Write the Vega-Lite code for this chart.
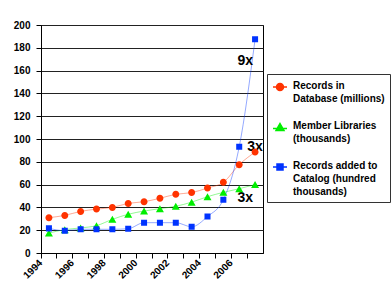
{
  "$schema": "https://vega.github.io/schema/vega-lite/v6.json",
  "width": 222,
  "height": 228,
  "autosize": "none",
  "padding": {"left": 41, "top": 25, "right": 128, "bottom": 42},
  "background": "white",
  "view": {"stroke": "#000", "strokeWidth": 1},
  "config": {
    "font": "Liberation Sans",
    "axis": {"labelFont": "Liberation Sans", "labelFontWeight": "bold", "labelFontSize": 10, "labelColor": "#000", "tickColor": "#000", "domainColor": "#000", "tickSize": 5}
  },
  "datasets": {
    "series": [
      {"year": "1994", "series": "Records in Database (millions)", "value": 31},
      {"year": "1995", "series": "Records in Database (millions)", "value": 33},
      {"year": "1996", "series": "Records in Database (millions)", "value": 36.5},
      {"year": "1997", "series": "Records in Database (millions)", "value": 38.5},
      {"year": "1998", "series": "Records in Database (millions)", "value": 40},
      {"year": "1999", "series": "Records in Database (millions)", "value": 43.5},
      {"year": "2000", "series": "Records in Database (millions)", "value": 45},
      {"year": "2001", "series": "Records in Database (millions)", "value": 48},
      {"year": "2002", "series": "Records in Database (millions)", "value": 51.5},
      {"year": "2003", "series": "Records in Database (millions)", "value": 53},
      {"year": "2004", "series": "Records in Database (millions)", "value": 57},
      {"year": "2005", "series": "Records in Database (millions)", "value": 62},
      {"year": "2006", "series": "Records in Database (millions)", "value": 77.5},
      {"year": "2007", "series": "Records in Database (millions)", "value": 88.5},
      {"year": "1994", "series": "Member Libraries (thousands)", "value": 17.5},
      {"year": "1995", "series": "Member Libraries (thousands)", "value": 20.5},
      {"year": "1996", "series": "Member Libraries (thousands)", "value": 22},
      {"year": "1997", "series": "Member Libraries (thousands)", "value": 24},
      {"year": "1998", "series": "Member Libraries (thousands)", "value": 29.5},
      {"year": "1999", "series": "Member Libraries (thousands)", "value": 34},
      {"year": "2000", "series": "Member Libraries (thousands)", "value": 36.8},
      {"year": "2001", "series": "Member Libraries (thousands)", "value": 38.9},
      {"year": "2002", "series": "Member Libraries (thousands)", "value": 41},
      {"year": "2003", "series": "Member Libraries (thousands)", "value": 44.6},
      {"year": "2004", "series": "Member Libraries (thousands)", "value": 49.4},
      {"year": "2005", "series": "Member Libraries (thousands)", "value": 53.2},
      {"year": "2006", "series": "Member Libraries (thousands)", "value": 56.4},
      {"year": "2007", "series": "Member Libraries (thousands)", "value": 60},
      {"year": "1994", "series": "Records added to Catalog (hundred thousands)", "value": 21.6},
      {"year": "1995", "series": "Records added to Catalog (hundred thousands)", "value": 19.6},
      {"year": "1996", "series": "Records added to Catalog (hundred thousands)", "value": 20.8},
      {"year": "1997", "series": "Records added to Catalog (hundred thousands)", "value": 20.8},
      {"year": "1998", "series": "Records added to Catalog (hundred thousands)", "value": 20.8},
      {"year": "1999", "series": "Records added to Catalog (hundred thousands)", "value": 21.3},
      {"year": "2000", "series": "Records added to Catalog (hundred thousands)", "value": 26.6},
      {"year": "2001", "series": "Records added to Catalog (hundred thousands)", "value": 26.6},
      {"year": "2002", "series": "Records added to Catalog (hundred thousands)", "value": 26.6},
      {"year": "2003", "series": "Records added to Catalog (hundred thousands)", "value": 23},
      {"year": "2004", "series": "Records added to Catalog (hundred thousands)", "value": 32},
      {"year": "2005", "series": "Records added to Catalog (hundred thousands)", "value": 46.8},
      {"year": "2006", "series": "Records added to Catalog (hundred thousands)", "value": 93.2},
      {"year": "2007", "series": "Records added to Catalog (hundred thousands)", "value": 187.5}
    ],
    "notesA": [
      {"year": "2006", "label": "9x", "value": 168.4},
      {"year": "2006", "label": "3x", "value": 47.9}
    ],
    "notesB": [
      {"year": "2007", "label": "3x", "value": 92.7}
    ]
  },
  "encoding": {
    "x": {
      "field": "year", "type": "ordinal", "title": null,
      "scale": {"type": "band", "paddingInner": 0, "paddingOuter": 0},
      "axis": {"bandPosition": 0, "labelAngle": -45, "labelAlign": "right", "labelBaseline": "middle", "labelOffset": -8, "labelExpr": "toNumber(datum.value) % 2 == 0 ? datum.value : ''", "labelPadding": 3, "grid": false}
    },
    "y": {
      "field": "value", "type": "quantitative", "title": null,
      "scale": {"domain": [0, 200], "nice": false, "zero": true},
      "axis": {"values": [0, 20, 40, 60, 80, 100, 120, 140, 160, 180, 200], "grid": true, "gridColor": "#222", "gridWidth": 1, "gridOpacity": 1, "labelPadding": 6}
    }
  },
  "layer": [
    {
      "data": {"name": "series"},
      "mark": {"type": "line", "interpolate": "monotone", "strokeWidth": 1, "strokeOpacity": 0.42},
      "encoding": {
        "color": {
          "field": "series", "type": "nominal", "title": null,
          "scale": {"domain": ["Records in Database (millions)", "Member Libraries (thousands)", "Records added to Catalog (hundred thousands)"], "range": ["#ff3300", "#00ee00", "#0033ff"]}
        }
      }
    },
    {
      "data": {"name": "notesA"},
      "mark": {"type": "text", "font": "Liberation Sans", "fontWeight": "bold", "fontSize": 14, "align": "center", "baseline": "middle", "dx": 6, "color": "#000"},
      "encoding": {"text": {"field": "label"}}
    },
    {
      "data": {"name": "notesB"},
      "mark": {"type": "text", "font": "Liberation Sans", "fontWeight": "bold", "fontSize": 14, "align": "center", "baseline": "middle", "dx": 0, "color": "#000"},
      "encoding": {"text": {"field": "label"}}
    },
    {
      "data": {"name": "series"},
      "mark": {"type": "point", "filled": true, "opacity": 1, "size": 196, "strokeOpacity": 0},
      "encoding": {
        "color": {
          "field": "series", "type": "nominal", "title": null,
          "legend": {
            "orient": "none", "legendX": 226, "legendY": 49, "padding": 5,
            "strokeColor": "#333", "fillColor": "#fff",
            "symbolSize": 196, "symbolStrokeWidth": 1.5, "symbolOpacity": 1,
            "labelFont": "Liberation Sans", "labelFontWeight": "bold", "labelFontSize": 10, "labelColor": "#000",
            "labelOffset": 5, "labelLimit": 200, "labelBaseline": "top", "rowPadding": 15,
            "labelExpr": "datum.value == 'Records in Database (millions)' ? ['Records in', 'Database (millions)'] : datum.value == 'Member Libraries (thousands)' ? ['Member Libraries', '(thousands)'] : ['Records added to', 'Catalog (hundred', 'thousands)']",
            "encode": {
              "symbols": {"update": {"stroke": {"scale": "color", "field": "value"}, "strokeWidth": {"value": 1.5}, "strokeOpacity": {"value": 1}}},
              "labels": {"update": {"dy": {"value": -6}, "lineHeight": {"value": 13}}}
            }
          }
        },
        "shape": {
          "field": "series", "type": "nominal", "title": null,
          "scale": {"domain": ["Records in Database (millions)", "Member Libraries (thousands)", "Records added to Catalog (hundred thousands)"], "range": ["M-1,0H1M0.5,0A0.5,0.5,0,1,1,-0.5,0A0.5,0.5,0,1,1,0.5,0Z", "M-1,0.2H1M0,-0.5L0.57,0.5L-0.57,0.5Z", "M-1,0H1M-0.43,-0.43H0.43V0.43H-0.43Z"]}
        }
      }
    }
  ]
}
